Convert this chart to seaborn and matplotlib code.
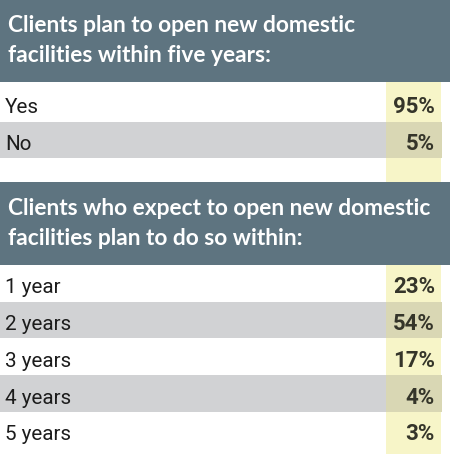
import matplotlib
matplotlib.use("Agg")
import matplotlib.pyplot as plt
import seaborn as sns

# Data
title_1 = ["Clients plan to open new domestic", "facilities within five years:"]
labels_1 = ["Yes", "No"]
values_1 = [95, 5]

title_2 = ["Clients who expect to open new domestic", "facilities plan to do so within:"]
labels_2 = ["1 year", "2 years", "3 years", "4 years", "5 years"]
values_2 = [23, 54, 17, 4, 3]

# Colours
HEADER = "#5e7480"
GRAY = "#d1d2d4"
YELLOW = "#f7f5c8"
OVERLAP = "#d9d7b4"
LABEL_C = "#1c1c1c"
VALUE_C = "#35352a"

HEAD_FONT = ["Lato", "DejaVu Sans"]
ROW_FONT = ["Roboto", "DejaVu Sans"]

sns.set_theme(style="white")

W, H = 450, 456
fig = plt.figure(figsize=(W / 100, H / 100), dpi=100)
ax = fig.add_axes([0, 0, 1, 1])
ax.set_xlim(0, W)
ax.set_ylim(H, 0)
ax.axis("off")
renderer = fig.canvas.get_renderer()


def fit_size(text, family, weight, target_w, base=20):
    t = ax.text(0, 0, text, fontsize=base, family=family, weight=weight)
    w = t.get_window_extent(renderer).width
    t.remove()
    return base * target_w / w


head_size = fit_size(title_2[0], HEAD_FONT, "bold", 424)
row_size = fit_size("2 years", ROW_FONT, "normal", 59) * 1.12
val_size = fit_size("95%", ROW_FONT, "bold", 40) * 1.05

col_x0, col_x1 = 386, 441
row_h = 36.7


def section(top, title, labels, values, rows_top, col_bottom):
    # header band
    ax.barh(top + 41.5, W, height=83, left=0, color=HEADER, linewidth=0, zorder=1)
    ax.text(8, top + 32, title[0], color="white", fontsize=head_size,
            family=HEAD_FONT, weight="bold", va="baseline", zorder=5)
    ax.text(8, top + 62, title[1], color="white", fontsize=head_size,
            family=HEAD_FONT, weight="bold", va="baseline", zorder=5)
    # yellow value column
    ax.bar((col_x0 + col_x1) / 2, col_bottom - (top + 83), width=col_x1 - col_x0,
           bottom=top + 83, color=YELLOW, linewidth=0, zorder=1)
    for i, (lab, val) in enumerate(zip(labels, values)):
        y0 = rows_top + i * row_h
        if i % 2 == 1:
            ax.barh(y0 + row_h / 2, col_x0, height=row_h, left=0, color=GRAY,
                    linewidth=0, zorder=2)
            ax.barh(y0 + row_h / 2, col_x1 + 1 - col_x0, height=row_h, left=col_x0,
                    color=OVERLAP, linewidth=0, zorder=2)
        ax.text(5, y0 + 27.5, lab, color=LABEL_C, fontsize=row_size,
                family=ROW_FONT, weight="normal", va="baseline", zorder=5)
        ax.text(435, y0 + 27.5, f"{val}%", color=VALUE_C, fontsize=val_size,
                family=ROW_FONT, weight="bold", ha="right", va="baseline", zorder=5)


section(0, title_1, labels_1, values_1, 86, 183)
section(183, title_2, labels_2, values_2, 266, 455)

fig.savefig("out.png", dpi=100)
